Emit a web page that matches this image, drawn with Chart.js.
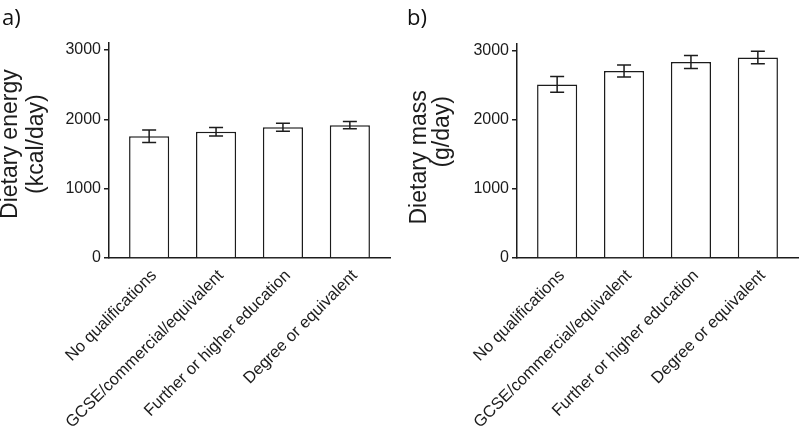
<!DOCTYPE html>
<html>
<head>
<meta charset="utf-8">
<script src="https://cdn.jsdelivr.net/npm/chart.js@4.4.1/dist/chart.umd.min.js"></script>
<style>
  html, body { margin: 0; padding: 0; background: #fff; }
  #wrap { position: relative; width: 800px; height: 432px; overflow: hidden; background: #fff; }
  .panel { position: absolute; top: 0; height: 432px; }
  .tag { position: absolute; top: 3px; font-family: 'Open Sans', 'Noto Sans', sans-serif; font-size: 22px; line-height: 26px; color: #111; }
</style>
</head>
<body>
<div id="wrap">
  <div class="panel" style="left:-4px;width:404px"><canvas id="chart-a" width="404" height="432"></canvas></div>
  <div class="panel" style="left:400px;width:400px"><canvas id="chart-b" width="400" height="432"></canvas></div>
  <div class="tag" style="left:2px">a)</div>
  <div class="tag" style="left:407px">b)</div>
</div>
<script>
// categories (education level)
const categories = ['No qualifications', 'GCSE/commercial/equivalent', 'Further or higher education', 'Degree or equivalent'];

// a) dietary energy, kcal/day
const energyMean = [1755, 1820, 1885, 1915];
const energyErr = [90, 60, 57, 52];

// b) dietary mass, g/day
const massMean = [2515, 2710, 2840, 2905];
const massErr = [115, 87, 95, 90];

const yTicks = [0, 1000, 2000, 3000];

const INK = '#1c1c1c';
const FONT = "'Liberation Sans', Arial, sans-serif";
const LABEL_SHIFT = 0.075; // rotated labels sit a little right of the bar centre

// error bars drawn on top of each bar
const errorBars = {
  id: 'errorBars',
  afterDatasetsDraw(chart) {
    const ctx = chart.ctx;
    const y = chart.scales.y;
    chart.data.datasets.forEach((ds, i) => {
      const meta = chart.getDatasetMeta(i);
      meta.data.forEach((bar, j) => {
        const v = ds.data[j].y;
        const e = ds.errors[j];
        const top = y.getPixelForValue(v + e);
        const bot = y.getPixelForValue(v - e);
        const half = 7;
        ctx.save();
        ctx.strokeStyle = INK;
        ctx.lineWidth = 1.5;
        ctx.beginPath();
        ctx.moveTo(bar.x, top); ctx.lineTo(bar.x, bot);
        ctx.moveTo(bar.x - half, top); ctx.lineTo(bar.x + half, top);
        ctx.moveTo(bar.x - half, bot); ctx.lineTo(bar.x + half, bot);
        ctx.stroke();
        ctx.restore();
      });
    });
  }
};

function makeChart(id, means, errs, title, opts) {
  const canvas = document.getElementById(id);
  return new Chart(canvas, {
    type: 'bar',
    data: {
      datasets: [{
        data: means.map((v, i) => ({ x: i + 1, y: v })),
        errors: errs,
        backgroundColor: '#ffffff',
        borderColor: INK,
        borderWidth: 1.5,
        barPercentage: 0.6,
        categoryPercentage: 1
      }]
    },
    options: {
      responsive: false,
      animation: false,
      layout: { padding: { top: opts.top, right: opts.right, left: 0, bottom: 0 } },
      plugins: { legend: { display: false }, tooltip: { enabled: false } },
      scales: {
        x: {
          type: 'linear',
          min: 0.4,
          max: 4.6,
          offset: false,
          afterBuildTicks: (s) => { s.ticks = categories.map((c, i) => ({ value: i + 1 + LABEL_SHIFT })); },
          afterFit: (s) => { s.height = 174; },
          grid: { display: false, offset: false },
          border: { display: true, color: INK, width: 1.5 },
          ticks: {
            autoSkip: false,
            minRotation: 45,
            maxRotation: 45,
            padding: 0,
            color: INK,
            font: { family: FONT, size: 16.5 },
            callback: (v) => categories[Math.round(v) - 1]
          }
        },
        y: {
          min: 0,
          max: 3100,
          afterBuildTicks: (s) => { s.ticks = yTicks.map(v => ({ value: v })); },
          afterFit: (s) => { s.width = opts.yWidth; },
          grid: { drawOnChartArea: false, drawTicks: true, tickLength: 5, color: INK, lineWidth: 1.5 },
          border: { display: true, color: INK, width: 1.5 },
          ticks: { padding: 3, color: INK, font: { family: FONT, size: 16 }, callback: (v) => String(v) },
          title: {
            display: true,
            text: title,
            color: INK,
            padding: { top: opts.titlePad, bottom: 0 },
            font: { family: FONT, size: 23, lineHeight: opts.titleLine }
          }
        }
      }
    },
    plugins: [errorBars]
  });
}

makeChart('chart-a', energyMean, energyErr, ['  Dietary energy', '  (kcal/day)'],
  { top: 43, right: 10, yWidth: 113, titlePad: 1, titleLine: 1.15 });
makeChart('chart-b', massMean, massErr, ['Dietary mass  ', '      (g/day)'],
  { top: 44, right: 2, yWidth: 117, titlePad: 8, titleLine: 1.0 });
</script>
</body>
</html>
